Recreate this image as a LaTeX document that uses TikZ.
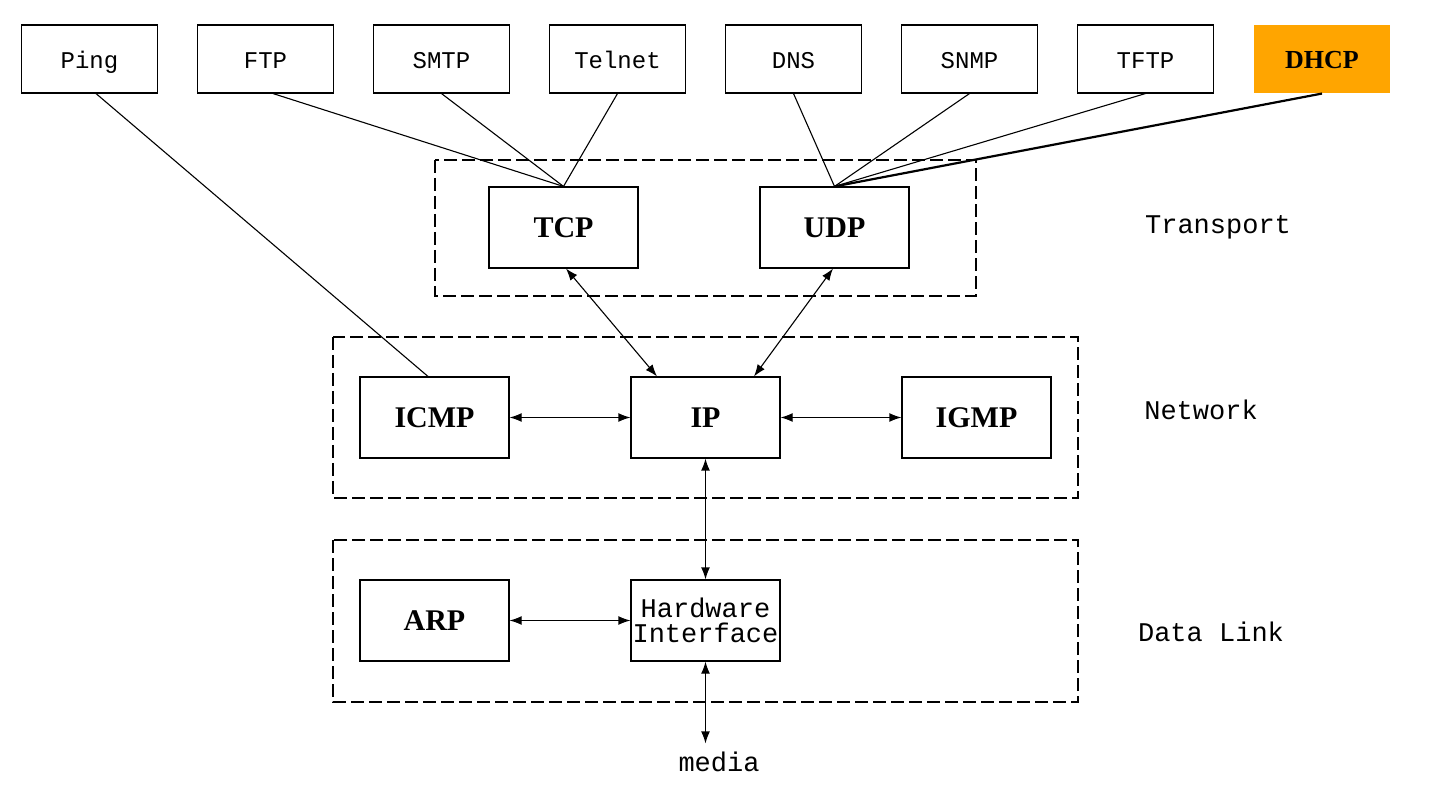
\documentclass[tikz,border=0pt]{standalone}
\usepackage{fontspec}
\setmainfont{Liberation Serif}
\setmonofont{Liberation Mono}
\usepackage{tikz}
\usetikzlibrary{arrows.meta,positioning,calc}
\definecolor{dhcporange}{RGB}{255,165,0}
\tikzstyle{arrow} = [line width=0.55pt,<->,>={Latex[length=6pt,width=4.4pt]}]
\tikzstyle{app} = [rectangle, draw, line width=0.55pt, minimum width=68pt, minimum height=34pt, text height=10pt, text depth=0pt, font=\ttfamily\fontsize{12}{14}\selectfont]
\tikzstyle{proto} = [rectangle, draw, line width=0.55pt, minimum width=74.5pt, minimum height=40.5pt, font=\bfseries\fontsize{15}{17}\selectfont]
\tikzstyle{layer} = [draw, line width=0.55pt, dash pattern=on 6.5pt off 2.5pt]
\tikzstyle{layerlabel} = [font=\ttfamily\fontsize{13.5}{16}\selectfont]

\begin{document}
\begin{tikzpicture}[x=0.5pt, y=-0.5pt, line width=0.55pt]
    \useasboundingbox (0,0) rectangle (1430,796);

    % Layer frames
    \draw[layer] (435,160) rectangle (976,296);
    \draw[layer] (333,337) rectangle (1078,498);
    \draw[layer] (333,540) rectangle (1078,702);

    % Applications
    \node[app] (ping) at (89.5,59) {Ping};
    \node[app] (ftp) at (265.5,59) {FTP};
    \node[app] (smtp) at (441.5,59) {SMTP};
    \node[app] (telnet) at (617.5,59) {Telnet};
    \node[app] (dns) at (793.5,59) {DNS};
    \node[app] (snmp) at (969.5,59) {SNMP};
    \node[app] (tftp) at (1145.5,59) {TFTP};
    \node[app, draw=none, fill=dhcporange, font=\bfseries\fontsize{13}{15}\selectfont] (dhcp) at (1322,59) {DHCP};

    % Protocols
    \node[proto] (tcp) at (563.5,227.5) {TCP};
    \node[proto] (udp) at (834.5,227.5) {UDP};
    \node[proto] (icmp) at (434.5,417.5) {ICMP};
    \node[proto] (ip) at (705.5,417.5) {IP};
    \node[proto] (igmp) at (976.5,417.5) {IGMP};
    \node[proto] (arp) at (434.5,620.5) {ARP};
    \node[proto, inner xsep=0pt, align=center, font=\ttfamily\fontsize{13.5}{12.5}\selectfont] (hw) at (705.5,620.5) {Hardware\\Interface};
    \node[layerlabel, inner xsep=1pt, inner ysep=4pt] (media) at (719,762) {media};

    % Layer names
    \node[layerlabel] (transport) at (1218,227) {Transport};
    \node[layerlabel] (network) at (1201,410) {Network};
    \node[layerlabel] (datalink) at (1211,632) {Data Link};

    % Application links
    \draw ($(ping.south)+(6.5,0)$) -- ($(icmp.north)+(-6.5,0)$);
    \draw ($(ftp.south)+(7.5,0)$) -- (tcp.north);
    \draw (smtp.south) -- (tcp.north);
    \draw (telnet.south) -- (tcp.north);
    \draw (dns.south) -- (udp.north);
    \draw (snmp.south) -- (udp.north);
    \draw (tftp.south) -- (udp.north);
    \draw[line width=1.1pt] (dhcp.south) -- (udp.north);

    % Stack arrows
    \draw[arrow] ($(tcp.south)+(2.5,0)$) -- ($(ip.north)+(-48.5,0)$);
    \draw[arrow] ($(udp.south)+(-1.5,0)$) -- ($(ip.north)+(48.5,0)$);
    \draw[arrow] (icmp) -- (ip);
    \draw[arrow] (ip) -- (igmp);
    \draw[arrow] (ip) -- (hw);
    \draw[arrow] (arp) -- (hw);
    \draw[arrow] (hw.south) -- (hw.south |- media.north);
\end{tikzpicture}
\end{document}
